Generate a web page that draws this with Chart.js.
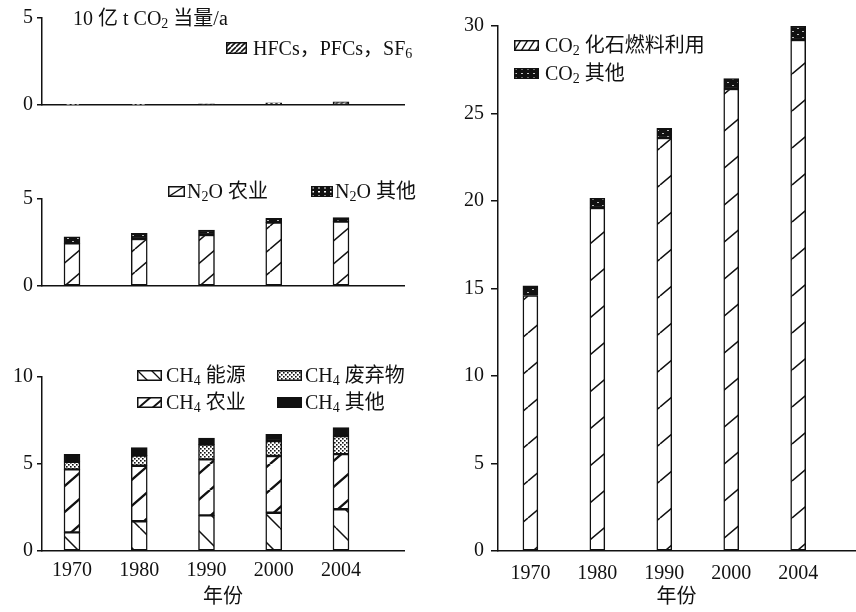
<!DOCTYPE html>
<html>
<head>
<meta charset="utf-8">
<script src="https://cdn.jsdelivr.net/npm/chart.js@4.4.1/dist/chart.umd.min.js"></script>
<style>
  body { margin: 0; background: #fff; width: 856px; height: 612px; position: relative; overflow: hidden;
         font-family: "Liberation Serif", "Noto Sans CJK SC", serif; color: #111; }
  canvas.chart { position: absolute; }
  .lbl { position: absolute; font-size: 20px; line-height: 20px; white-space: nowrap; }
  .lbl sub { font-size: 14px; vertical-align: -3px; line-height: 0; }
  canvas.sw { position: absolute; }
</style>
</head>
<body>
<canvas class="chart" id="hfcChart" width="430" height="113" style="left:0;top:0"></canvas>
<canvas class="chart" id="n2oChart" width="430" height="114" style="left:0;top:180px"></canvas>
<canvas class="chart" id="ch4Chart" width="430" height="252" style="left:0;top:360px"></canvas>
<canvas class="chart" id="co2Chart" width="416" height="612" style="left:440px;top:0"></canvas>

<div class="lbl" style="left:73px;top:8px">10 亿 t CO<sub>2</sub> 当量/a</div>
<div class="lbl" style="left:253px;top:38px">HFCs，PFCs，SF<sub>6</sub></div>
<div class="lbl" style="left:187px;top:181px">N<sub>2</sub>O 农业</div>
<div class="lbl" style="left:335px;top:181px">N<sub>2</sub>O 其他</div>
<div class="lbl" style="left:166px;top:365px">CH<sub>4</sub> 能源</div>
<div class="lbl" style="left:305px;top:365px">CH<sub>4</sub> 废弃物</div>
<div class="lbl" style="left:166px;top:392px">CH<sub>4</sub> 农业</div>
<div class="lbl" style="left:305px;top:392px">CH<sub>4</sub> 其他</div>
<div class="lbl" style="left:545px;top:35px">CO<sub>2</sub> 化石燃料利用</div>
<div class="lbl" style="left:545px;top:63px">CO<sub>2</sub> 其他</div>

<script>
// values (10 亿 t CO2 当量/a)
const years = ['1970', '1980', '1990', '2000', '2004'];
const hfcValues = [0.03, 0.03, 0.07, 0.12, 0.18];
const n2oAgri = [2.45, 2.7, 2.93, 3.64, 3.7];
const n2oOther = [0.38, 0.33, 0.29, 0.25, 0.23];
const ch4Energy = [1.07, 1.71, 2.05, 2.2, 2.4];
const ch4Agri = [3.62, 3.19, 3.22, 3.26, 3.17];
const ch4Waste = [0.44, 0.58, 0.84, 0.86, 1.03];
const ch4Other = [0.43, 0.46, 0.38, 0.38, 0.49];
const co2Fossil = [14.6, 19.6, 23.6, 26.4, 29.2];
const co2Other = [0.55, 0.55, 0.55, 0.6, 0.8];

const INK = '#111';
const serif = '"Liberation Serif", "Noto Sans CJK SC", serif';

// pattern helpers
function tile(w, h, bg, draw) {
    const c = document.createElement('canvas');
    c.width = w; c.height = h;
    const g = c.getContext('2d');
    g.fillStyle = bg; g.fillRect(0, 0, w, h);
    draw(g, w, h);
    return g.createPattern(c, 'repeat');
}
function hatch(w, h, lw, back, bg = '#fff', ink = INK) {
    return tile(w, h, bg, g => {
        g.strokeStyle = ink; g.lineWidth = lw;
        g.beginPath();
        for (const dx of [-w, 0, w]) {
            if (back) { g.moveTo(dx, 0); g.lineTo(dx + w, h); }
            else { g.moveTo(dx, h); g.lineTo(dx + w, 0); }
        }
        g.stroke();
    });
}
const specks = tile(10, 6, INK, g => { g.fillStyle = '#bbb'; g.fillRect(2, 1, 2, 1); g.fillRect(7, 4, 2, 1); });
const fills = {
    hfc: hatch(5, 5, 1.6, false),
    n2oAgri: hatch(27, 23, 1.5, false),
    n2oOther: specks,
    ch4Energy: hatch(28, 28, 1.5, true),
    ch4Agri: hatch(30, 26, 2.4, false),
    ch4Waste: tile(4, 4, '#fff', g => { g.fillStyle = INK; g.fillRect(0, 0, 1.6, 1.6); g.fillRect(2, 2, 1.6, 1.6); }),
    ch4Other: INK,
    co2Fossil: hatch(44, 37, 1.5, false),
    co2Other: specks
};

function swatch(x, y, w, h, fill) {
    const c = document.createElement('canvas');
    c.className = 'sw'; c.width = w; c.height = h;
    c.style.left = x + 'px'; c.style.top = y + 'px';
    const g = c.getContext('2d');
    g.fillStyle = fill; g.fillRect(0, 0, w, h);
    g.strokeStyle = INK; g.lineWidth = 1.5; g.strokeRect(0.75, 0.75, w - 1.5, h - 1.5);
    document.body.appendChild(c);
}
swatch(226, 42, 21, 12, fills.hfc);
swatch(168, 186, 17, 11, hatch(17, 11, 1.3, false));
swatch(311, 186, 22, 11, tile(6, 4, INK, g => { g.fillStyle = '#fff'; g.fillRect(1, 1, 2, 1.5); }));
swatch(137, 370, 25, 11, hatch(14, 14, 1.3, true));
swatch(277, 370, 25, 11, fills.ch4Waste);
swatch(137, 397, 25, 11, hatch(14, 12, 2, false));
swatch(277, 397, 25, 11, fills.ch4Other);
swatch(514, 40, 25, 11, hatch(7, 11, 1.4, false));
swatch(514, 68, 25, 11, tile(6, 4, INK, g => { g.fillStyle = '#ccc'; g.fillRect(1, 1, 2, 1); }));

function makeChart(id, sets, o) {
    return new Chart(document.getElementById(id), {
        type: 'bar',
        data: {
            datasets: sets.map(s => ({
                label: s.label,
                data: s.values.map((v, i) => ({ x: i, y: v })),
                backgroundColor: s.fill,
                borderColor: INK,
                borderWidth: 1.5,
                borderSkipped: false,
                barThickness: o.bar,
                stack: 'all'
            }))
        },
        options: {
            responsive: false,
            animation: false,
            layout: { padding: o.pad },
            plugins: { legend: { display: false }, tooltip: { enabled: false } },
            scales: {
                x: {
                    type: 'linear',
                    offset: false,
                    min: o.xmin, max: o.xmax,
                    grid: { display: false, drawTicks: false },
                    border: { display: true, color: INK, width: 1.5 },
                    afterBuildTicks: s => { s.ticks = years.map((y, i) => ({ value: i })); },
                    afterFit: s => { s.height = o.xh; s.paddingLeft = 0; s.paddingRight = 0; },
                    ticks: {
                        display: o.showX, padding: o.xpad, color: INK, autoSkip: false, maxRotation: 0,
                        font: { family: serif, size: 20 },
                        callback: v => years[v]
                    },
                    title: {
                        display: o.showX, text: '年份', color: INK,
                        font: { family: serif, size: 20 }, padding: { top: 0, bottom: 2 }
                    }
                },
                y: {
                    stacked: true,
                    min: 0, max: o.ymax,
                    afterFit: s => { s.width = o.yw; s.paddingTop = 0; s.paddingBottom = 0; },
                    ticks: { stepSize: o.ystep, padding: o.ypad, color: INK, font: { family: serif, size: 20 } },
                    grid: { drawOnChartArea: false, tickLength: o.tick, color: INK, lineWidth: 1.5 },
                    border: { display: true, color: INK, width: 1.5 }
                }
            }
        }
    });
}

const left = { xmin: -0.446, xmax: 4.937, bar: 16, yw: 42, tick: 5, ypad: 4 };

makeChart('hfcChart', [
    { label: 'HFCs，PFCs，SF6', values: hfcValues, fill: fills.hfc }
], { ...left, pad: { top: 18, right: 26, bottom: 0, left: 0 }, xh: 8, showX: false, ymax: 5, ystep: 5 });

makeChart('n2oChart', [
    { label: 'N2O 农业', values: n2oAgri, fill: fills.n2oAgri },
    { label: 'N2O 其他', values: n2oOther, fill: fills.n2oOther }
], { ...left, pad: { top: 19, right: 26, bottom: 0, left: 0 }, xh: 8, showX: false, ymax: 5, ystep: 5 });

makeChart('ch4Chart', [
    { label: 'CH4 能源', values: ch4Energy, fill: fills.ch4Energy },
    { label: 'CH4 农业', values: ch4Agri, fill: fills.ch4Agri },
    { label: 'CH4 废弃物', values: ch4Waste, fill: fills.ch4Waste },
    { label: 'CH4 其他', values: ch4Other, fill: fills.ch4Other }
], { ...left, pad: { top: 17, right: 26, bottom: 0, left: 0 }, xh: 61, xpad: 8, showX: true, ymax: 10, ystep: 5 });

makeChart('co2Chart', [
    { label: 'CO2 化石燃料利用', values: co2Fossil, fill: fills.co2Fossil },
    { label: 'CO2 其他', values: co2Other, fill: fills.co2Other }
], { xmin: -0.484, xmax: 4.849, bar: 15, yw: 58, tick: 7, ypad: 7,
     pad: { top: 26, right: 1, bottom: 0, left: 0 }, xh: 61, xpad: 11, showX: true, ymax: 30, ystep: 5 });
</script>
</body>
</html>
